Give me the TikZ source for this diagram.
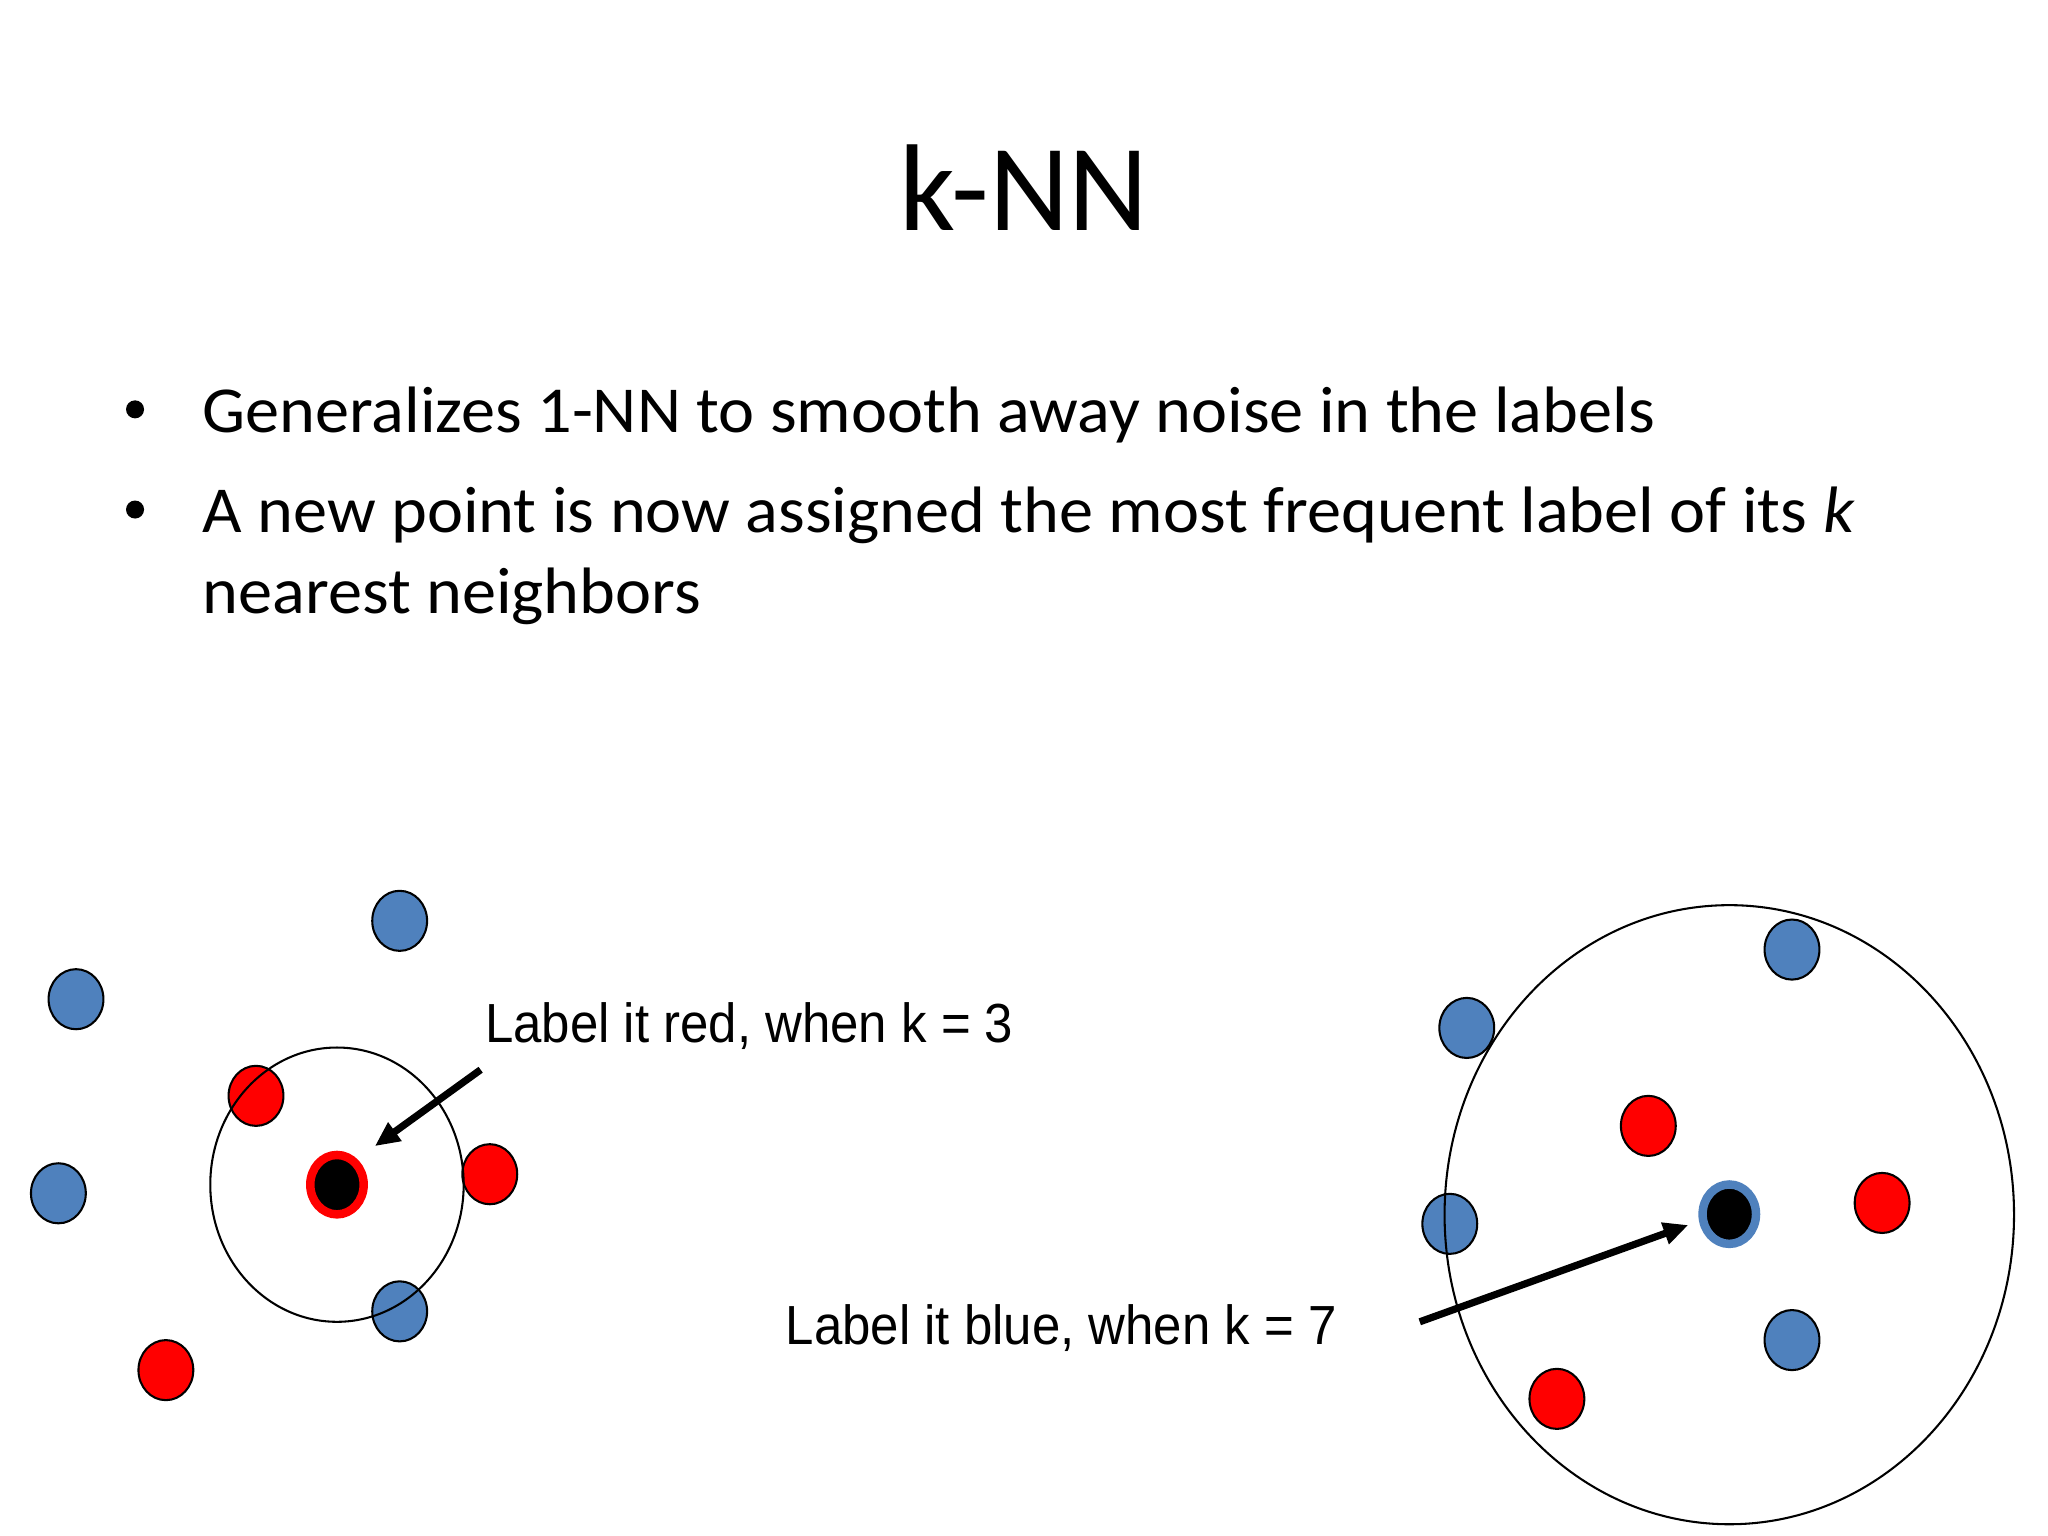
\documentclass[tikz,border=0pt]{standalone}
\usepackage{fontspec}
\setmainfont{Carlito}
\newfontfamily\arialf{Liberation Sans}
\usetikzlibrary{shapes.geometric,arrows.meta}
\definecolor{ptblue}{HTML}{4F81BD}
\definecolor{ptred}{HTML}{FF0000}
\begin{document}
\begin{tikzpicture}[x=0.1mm,y=-0.1mm,
  pt/.style={ellipse, draw=black, line width=0.45pt, minimum width=4.2mm, minimum height=4.6mm, inner sep=0pt},
  bpt/.style={pt, fill=ptblue},
  rpt/.style={pt, fill=ptred},
  query/.style={ellipse, fill=black, line width=0.65mm, minimum width=4.09mm, minimum height=4.55mm, inner sep=0pt},
  ring/.style={ellipse, draw=black, line width=0.45pt, inner sep=0pt},
  bigarrow/.style={line width=0.55mm, -{Triangle[length=1.9mm,width=1.65mm]}},
  note/.style={font=\arialf\fontsize{12}{14}\selectfont, anchor=base west, inner sep=0pt, xscale=0.925},
  bullettext/.style={font=\fontsize{14.3}{17}\selectfont, anchor=base west, inner sep=0pt, xscale=1.04},
  dot/.style={circle, fill=black, minimum size=1.38mm, inner sep=0pt}
]
\useasboundingbox (0,0) rectangle (1568,1176);
\fill[white] (0,0) rectangle (1568,1176);

% title
\node[anchor=base, font=\fontsize{26.9}{30}\selectfont, inner sep=0pt] (title) at (784,176.6) {k-NN};

% bullets
\node[dot] (d1) at (103.4,313.4) {};
\node[bullettext] (t1) at (154.4,331.3) {Generalizes 1-NN to smooth away noise in the labels};
\node[dot] (d2) at (103.4,390.1) {};
\node[bullettext] (t2) at (154.4,408) {A new point is now assigned the most frequent label of its \textit{k}};
\node[bullettext] (t3) at (154.4,470) {nearest neighbors};

% left group
\node[bpt] (b1) at (306,705) {};
\node[bpt] (b2) at (58.2,765) {};
\node[bpt] (b3) at (44.7,913.6) {};
\node[bpt] (b4) at (306,1004) {};
\node[rpt] (r1) at (196,839) {};
\node[rpt] (r2) at (375,899) {};
\node[rpt] (r3) at (127,1049) {};
\node[query, draw=ptred] (qL) at (258,907) {};
\node[ring, minimum width=19.4mm, minimum height=21mm] (cL) at (258,907) {};

\node[note] (labL) at (370.8,798) {Label it red, when k = 3};
\coordinate (tailL) at (368,819);
\coordinate (tipL) at (287,877.5);
\draw[bigarrow] (tailL) -- (tipL);

% right group
\node[bpt] (b5) at (1372,727) {};
\node[bpt] (b6) at (1123,787) {};
\node[bpt] (b7) at (1110,937) {};
\node[bpt] (b8) at (1372,1026) {};
\node[rpt] (r4) at (1262,862) {};
\node[rpt] (r5) at (1441,921) {};
\node[rpt] (r6) at (1192,1071) {};
\node[query, draw=ptblue] (qR) at (1324,929.6) {};
\node[ring, minimum width=43.6mm, minimum height=47.4mm] (cR) at (1324,930) {};

\node[note] (labR) at (601,1029) {Label it blue, when k = 7};
\coordinate (tailR) at (1087,1012);
\coordinate (tipR) at (1292.6,937.9);
\draw[bigarrow] (tailR) -- (tipR);
\end{tikzpicture}
\end{document}
